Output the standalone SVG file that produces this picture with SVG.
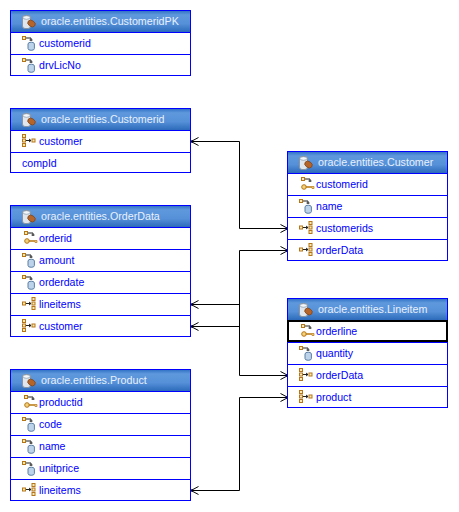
<svg xmlns="http://www.w3.org/2000/svg" xmlns:xlink="http://www.w3.org/1999/xlink" width="459" height="512" viewBox="0 0 459 512">
<style>
text{font-family:"Liberation Sans",Arial,sans-serif;font-size:10.6px}
.t{fill:#e8f0fb;font-size:10.7px}
.a{fill:#0000ff}
.box{fill:#fff;stroke:#0000ff;stroke-width:1}
.hd{fill:url(#hg);stroke:#0000ff;stroke-width:1}
.sep{stroke:#0000ff;stroke-width:1;fill:none}
.c{fill:none;stroke:#000;stroke-width:1}
.o{fill:#fbe9b0;stroke:#b5761a;stroke-width:1}
.k{fill:none;stroke:#222;stroke-width:1}
</style>
<defs>
<linearGradient id="hg" x1="0" y1="0" x2="0" y2="1">
<stop offset="0" stop-color="#2e6fc4"/><stop offset=".2" stop-color="#5f98dc"/><stop offset=".6" stop-color="#5590d8"/><stop offset="1" stop-color="#2a68b8"/>
</linearGradient>
<marker id="arr" markerWidth="10" markerHeight="9" refX="8.500" refY="4.500" orient="auto" markerUnits="userSpaceOnUse">
<path d="M1 .5L8.500 4.500L1 8.500" fill="none" stroke="#000"/><circle cx="7.500" cy="4.500" r="1.200" fill="#000"/>
</marker>
<g id="ent"><rect x=".5" y=".5" width="8" height="13" rx="2.500" fill="#dfe6ee" stroke="#8795a5"/><ellipse cx="4.500" cy="2.500" rx="3.500" ry="1.800" fill="#f4f7fa" stroke="#8795a5" stroke-width=".7"/><ellipse cx="9.500" cy="8.500" rx="4" ry="3" fill="#b5642a" stroke="#7c4318" stroke-width=".7" transform="rotate(35 9.500 8.500)"/></g>
<g id="fld"><rect x=".5" y=".5" width="3" height="3" class="o"/><path class="k" d="M4 2H9V5M7.500 4H10.500"/><path d="M6 8a3.200 1.800 0 0 1 6.400 0V12.500a3.200 1.800 0 0 1-6.400 0z" fill="#bcd3ea" stroke="#5c7fa5"/></g>
<g id="key"><rect x=".5" y=".5" width="3" height="3" class="o"/><path class="k" d="M4 2H9V5M7.500 4H10.500"/><circle cx="3" cy="10" r="2.300" fill="#f4d27a" stroke="#b5761a"/><path d="M5 9.500H13V11.500H11V10.500H5z" fill="#f4d27a" stroke="#b5761a" stroke-width=".7"/></g>
<g id="m1"><rect x=".5" y=".5" width="3" height="3" class="o"/><rect x=".5" y="5" width="3" height="3" class="o"/><rect x=".5" y="9.500" width="3" height="3" class="o"/><path class="k" d="M4 6.500H9M7 5L9 6.500L7 8"/><rect x="10" y="5" width="3" height="3" class="o"/></g>
<g id="1m"><rect x=".5" y="5" width="3" height="3" class="o"/><path class="k" d="M4 6.500H9M7 5L9 6.500L7 8"/><rect x="10" y=".5" width="3" height="3" class="o"/><rect x="10" y="5" width="3" height="3" class="o"/><rect x="10" y="9.500" width="3" height="3" class="o"/></g>
</defs>
<g id="connectors">
<path class="c" marker-end="url(#arr)" d="M239.500 141.500H191"/>
<path class="c" marker-end="url(#arr)" d="M239.500 141.500V228.500H288"/>
<path class="c" marker-end="url(#arr)" d="M239.500 304.500H191"/>
<path class="c" marker-end="url(#arr)" d="M239.500 326.500H191"/>
<path class="c" marker-end="url(#arr)" d="M239.500 250.500H288"/>
<path class="c" marker-end="url(#arr)" d="M239.500 250.500V375.500H288"/>
<path class="c" marker-end="url(#arr)" d="M239.500 397.500H288"/>
<path class="c" marker-end="url(#arr)" d="M239.500 397.500V490.500H191"/>
</g>
<g id="CustomeridPK">
<rect class="box" x="10.500" y="10.500" width="180" height="65"/><rect class="hd" x="10.500" y="10.500" width="180" height="22"/>
<use xlink:href="#ent" x="22" y="15"/><text class="t" x="41" y="25">oracle.entities.CustomeridPK</text>
<use xlink:href="#fld" x="22" y="36"/><text class="a" x="39" y="47">customerid</text>
<path class="sep" d="M10 54.500H190"/>
<use xlink:href="#fld" x="22" y="58"/><text class="a" x="39" y="69">drvLicNo</text>
</g>
<g id="Customerid">
<rect class="box" x="10.500" y="108.500" width="180" height="64"/><rect class="hd" x="10.500" y="108.500" width="180" height="22"/>
<use xlink:href="#ent" x="22" y="113"/><text class="t" x="41" y="123">oracle.entities.Customerid</text>
<use xlink:href="#m1" x="22" y="134"/><text class="a" x="39" y="145">customer</text>
<path class="sep" d="M10 152.500H190"/>
<text class="a" x="22" y="167">compId</text>
</g>
<g id="OrderData">
<rect class="box" x="10.500" y="205.500" width="180" height="131"/><rect class="hd" x="10.500" y="205.500" width="180" height="22"/>
<use xlink:href="#ent" x="22" y="210"/><text class="t" x="41" y="220">oracle.entities.OrderData</text>
<use xlink:href="#key" x="24" y="231"/><text class="a" x="39" y="242">orderid</text>
<path class="sep" d="M10 249.500H190"/>
<use xlink:href="#fld" x="22" y="253"/><text class="a" x="39" y="264">amount</text>
<path class="sep" d="M10 271.500H190"/>
<use xlink:href="#fld" x="22" y="275"/><text class="a" x="39" y="286">orderdate</text>
<path class="sep" d="M10 293.500H190"/>
<use xlink:href="#1m" x="22" y="297"/><text class="a" x="39" y="308">lineitems</text>
<path class="sep" d="M10 315.500H190"/>
<use xlink:href="#m1" x="22" y="319"/><text class="a" x="39" y="330">customer</text>
</g>
<g id="Product">
<rect class="box" x="10.500" y="369.500" width="180" height="131"/><rect class="hd" x="10.500" y="369.500" width="180" height="22"/>
<use xlink:href="#ent" x="22" y="374"/><text class="t" x="41" y="384">oracle.entities.Product</text>
<use xlink:href="#key" x="24" y="395"/><text class="a" x="39" y="406">productid</text>
<path class="sep" d="M10 413.500H190"/>
<use xlink:href="#fld" x="22" y="417"/><text class="a" x="39" y="428">code</text>
<path class="sep" d="M10 435.500H190"/>
<use xlink:href="#fld" x="22" y="439"/><text class="a" x="39" y="450">name</text>
<path class="sep" d="M10 457.500H190"/>
<use xlink:href="#fld" x="22" y="461"/><text class="a" x="39" y="472">unitprice</text>
<path class="sep" d="M10 479.500H190"/>
<use xlink:href="#1m" x="22" y="483"/><text class="a" x="39" y="494">lineitems</text>
</g>
<g id="Customer">
<rect class="box" x="287.500" y="151.500" width="160" height="109"/><rect class="hd" x="287.500" y="151.500" width="160" height="22"/>
<use xlink:href="#ent" x="299" y="156"/><text class="t" x="318" y="166">oracle.entities.Customer</text>
<use xlink:href="#key" x="301" y="177"/><text class="a" x="316" y="188">customerid</text>
<path class="sep" d="M287 195.500H447"/>
<use xlink:href="#fld" x="299" y="199"/><text class="a" x="316" y="210">name</text>
<path class="sep" d="M287 217.500H447"/>
<use xlink:href="#1m" x="299" y="221"/><text class="a" x="316" y="232">customerids</text>
<path class="sep" d="M287 239.500H447"/>
<use xlink:href="#1m" x="299" y="243"/><text class="a" x="316" y="254">orderData</text>
</g>
<g id="Lineitem">
<rect class="box" x="287.500" y="298.500" width="160" height="109"/><rect class="hd" x="287.500" y="298.500" width="160" height="22"/>
<use xlink:href="#ent" x="299" y="303"/><text class="t" x="318" y="313">oracle.entities.Lineitem</text>
<rect x="288" y="321" width="159" height="20" fill="#fff" stroke="#000" stroke-width="2"/>
<use xlink:href="#key" x="301" y="324"/><text class="a" x="316" y="335">orderline</text>
<path class="sep" d="M287 342.500H447"/>
<use xlink:href="#fld" x="299" y="346"/><text class="a" x="316" y="357">quantity</text>
<path class="sep" d="M287 364.500H447"/>
<use xlink:href="#m1" x="299" y="368"/><text class="a" x="316" y="379">orderData</text>
<path class="sep" d="M287 386.500H447"/>
<use xlink:href="#m1" x="299" y="390"/><text class="a" x="316" y="401">product</text>
</g>
</svg>
